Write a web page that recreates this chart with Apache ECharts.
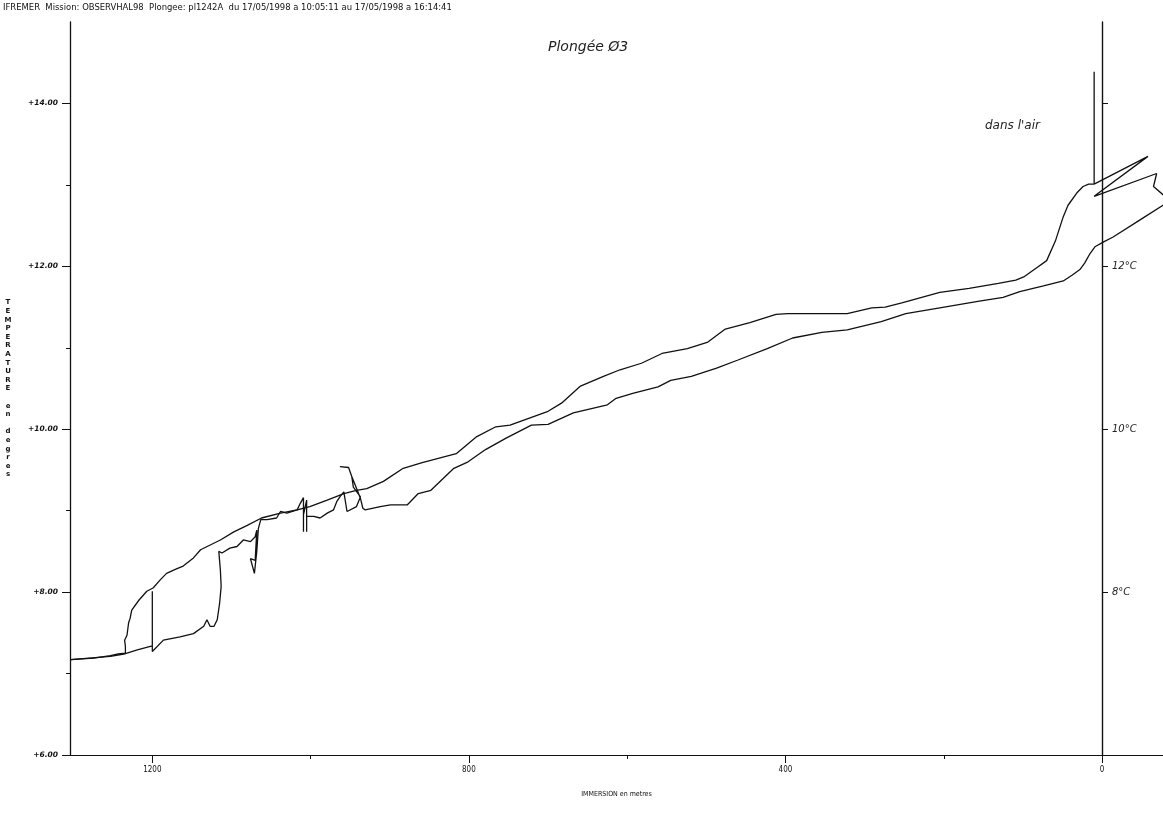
<!DOCTYPE html>
<html><head><meta charset="utf-8">
<script src="https://cdn.jsdelivr.net/npm/echarts@6/dist/echarts.min.js"></script>
<style>html,body{margin:0;padding:0;background:#fff}#c{width:1163px;height:820px}</style>
</head><body><div id="c"></div>
<script>
const headerText = 'IFREMER  Mission: OBSERVHAL98  Plongee: pl1242A  du 17/05/1998 a 10:05:11 au 17/05/1998 a 16:14:41';
const handTitle = 'Plongée Ø3';
const airNote = "dans l'air";
const xAxisName = 'IMMERSION en metres';
const yAxisName = 'TEMPERATURE en degres';
const xTicks = [0, 400, 800, 1200];
const xMinorTicks = [200, 600, 1000];
const yTicks = [6, 8, 10, 12, 14];
const yMinorTicks = [7, 9, 11, 13];
const rightTicks = [8, 10, 12, 14];
const rightLabels = [8, 10, 12];

// [depth (m), temperature (°C)]
const airTrace = [[10,14.39],[10,13.01]];
const surfaceZigzag = [[10,13.01],[-58,13.35],[10,12.86],[-69,13.14],[-65,12.98],[-77,12.88],[-90,12.80]];
const descent = [[10,13.01],[17,13.01],[24,12.98],[32,12.90],[43,12.75],[49,12.61],[59,12.31],[70,12.07],[83,11.98],[99,11.87],[109,11.83],[131,11.79],[168,11.73],[205,11.68],[253,11.55],[274,11.50],[291,11.49],[322,11.42],[349,11.42],[397,11.42],[412,11.41],[445,11.31],[476,11.23],[498,11.07],[524,10.99],[556,10.93],[582,10.81],[609,10.73],[630,10.65],[659,10.53],[683,10.32],[700,10.22],[748,10.05],[766,10.03],[790,9.91],[816,9.70],[859,9.59],[883,9.52],[908,9.36],[929,9.27],[942,9.25],[958,9.21],[979,9.13],[1001,9.05],[1017,9.01],[1038,8.97],[1062,8.91],[1080,8.82],[1097,8.74],[1114,8.64],[1139,8.52],[1148,8.42],[1161,8.32],[1171,8.28],[1182,8.23],[1190,8.15],[1199,8.05],[1207,8.01],[1217,7.90],[1226,7.78],[1228,7.68],[1230,7.62],[1232,7.47],[1235,7.41],[1234,7.33],[1234,7.25],[1243,7.24],[1253,7.22],[1274,7.19],[1303,7.17]];
const ascent = [[1303,7.17],[1253,7.21],[1236,7.24],[1219,7.29],[1200,7.34],[1200,8.01],[1200,7.27],[1186,7.41],[1165,7.45],[1148,7.49],[1135,7.58],[1131,7.66],[1127,7.58],[1122,7.58],[1118,7.66],[1115,7.86],[1113,8.07],[1114,8.27],[1116,8.50],[1112,8.48],[1102,8.54],[1093,8.56],[1085,8.64],[1076,8.62],[1070,8.68],[1068,8.76],[1070,8.39],[1076,8.41],[1071,8.23],[1068,8.50],[1066,8.78],[1063,8.89],[1055,8.89],[1043,8.91],[1038,8.99],[1030,8.97],[1017,9.01],[1013,9.09],[1009,9.16],[1009,8.74],[1009,8.95],[1005,9.13],[1005,8.74],[1005,8.93],[996,8.93],[988,8.91],[979,8.97],[971,9.01],[967,9.11],[963,9.17],[958,9.23],[954,8.99],[942,9.05],[937,9.17],[946,9.29],[948,9.42],[952,9.53],[963,9.54],[952,9.53],[948,9.42],[941,9.25],[937,9.15],[934,9.03],[931,9.01],[912,9.05],[899,9.07],[878,9.07],[864,9.21],[848,9.25],[819,9.52],[801,9.60],[779,9.75],[753,9.89],[721,10.05],[700,10.06],[668,10.20],[625,10.30],[614,10.38],[593,10.44],[561,10.52],[545,10.60],[519,10.65],[487,10.75],[460,10.85],[423,10.99],[391,11.12],[354,11.19],[322,11.22],[279,11.32],[248,11.42],[205,11.49],[157,11.57],[125,11.62],[104,11.69],[74,11.76],[49,11.82],[38,11.89],[28,11.96],[22,12.04],[15,12.16],[9,12.24],[-2,12.30],[-14,12.36],[-48,12.57],[-77,12.75],[-90,12.83]];

const INK = '#111';
const plotFont = "'DejaVu Sans Condensed', 'Liberation Sans Narrow', sans-serif";
const lineStyle = { color: INK, width: 1.3 };
function mkSeries(name, data) {
  return { name, type: 'line', data, xAxisIndex: 0, yAxisIndex: 0, showSymbol: false, symbol: 'none',
           lineStyle, animation: false, silent: true, clip: true };
}

const chart = echarts.init(document.getElementById('c'), null, { renderer: 'canvas' });
chart.setOption({
  backgroundColor: '#fff',
  animation: false,
  title: [
    { text: headerText, left: 3, top: 3, padding: 0, textStyle: { fontFamily: plotFont, fontSize: 9.4, fontWeight: 'normal', color: INK } },
    { text: handTitle, left: 548, top: 40, padding: 0, textStyle: { fontFamily: "'DejaVu Sans', sans-serif", fontStyle: 'italic', fontSize: 14, fontWeight: 'normal', color: '#222' } },
    { text: airNote, left: 985, top: 120, padding: 0, textStyle: { fontFamily: "'DejaVu Sans', sans-serif", fontStyle: 'italic', fontSize: 12, fontWeight: 'normal', color: '#222' } }
  ],
  grid: { left: 70, right: 0, top: 22, bottom: 65, containLabel: false, outerBoundsMode: 'none' },
  xAxis: [
    { type: 'value', inverse: true, min: -77, max: 1304,
      name: xAxisName, nameLocation: 'middle', nameGap: 36,
      nameTextStyle: { fontFamily: plotFont, fontSize: 7, color: INK },
      axisLine: { show: true, onZero: false, lineStyle: { color: INK, width: 1.2 } },
      axisTick: { show: true, customValues: xTicks, length: 8, lineStyle: { color: INK } },
      axisLabel: { customValues: xTicks, margin: 11, formatter: v => String(v), fontFamily: plotFont, fontSize: 8, color: INK },
      splitLine: { show: false } },
    { type: 'value', inverse: true, min: -77, max: 1304, position: 'bottom',
      axisLine: { show: false, onZero: false },
      axisTick: { show: true, customValues: xMinorTicks, length: 4, lineStyle: { color: INK } },
      axisLabel: { show: false }, splitLine: { show: false } }
  ],
  yAxis: [
    { type: 'value', min: 6, max: 15, position: 'left',
      name: yAxisName.split(' ').map(w => w.split('').join('\n')).join('\n\n'),
      nameLocation: 'middle', nameRotate: 0, nameGap: 62,
      nameTextStyle: { fontFamily: "'DejaVu Sans', sans-serif", fontSize: 7, fontWeight: 'bold', color: INK, align: 'center', verticalAlign: 'middle', lineHeight: 8.6 },
      axisLine: { show: true, onZero: false, lineStyle: { color: INK, width: 1.3 } },
      axisTick: { show: true, customValues: yTicks, length: 8, lineStyle: { color: INK } },
      axisLabel: { customValues: yTicks, margin: 12, formatter: v => '+' + Number(v).toFixed(2),
                   fontFamily: "'DejaVu Sans', sans-serif", fontStyle: 'italic', fontWeight: 'bold', fontSize: 7.5, color: INK },
      splitLine: { show: false } },
    { type: 'value', min: 6, max: 15, position: 'right', offset: -61,
      axisLine: { show: true, onZero: false, lineStyle: { color: INK, width: 1.4 } },
      axisTick: { show: true, customValues: rightTicks, length: 6, lineStyle: { color: INK } },
      axisLabel: { customValues: rightLabels, margin: 10, formatter: v => v + '°C',
                   fontFamily: "'DejaVu Sans', sans-serif", fontStyle: 'italic', fontSize: 10, color: '#222' },
      splitLine: { show: false } },
    { type: 'value', min: 6, max: 15, position: 'left',
      axisLine: { show: false, onZero: false },
      axisTick: { show: true, customValues: yMinorTicks, length: 4, lineStyle: { color: INK } },
      axisLabel: { show: false }, splitLine: { show: false } }
  ],
  series: [
    mkSeries('air', airTrace),
    mkSeries('surface', surfaceZigzag),
    mkSeries('descente', descent),
    mkSeries('remontee', ascent)
  ]
});
</script></body></html>
